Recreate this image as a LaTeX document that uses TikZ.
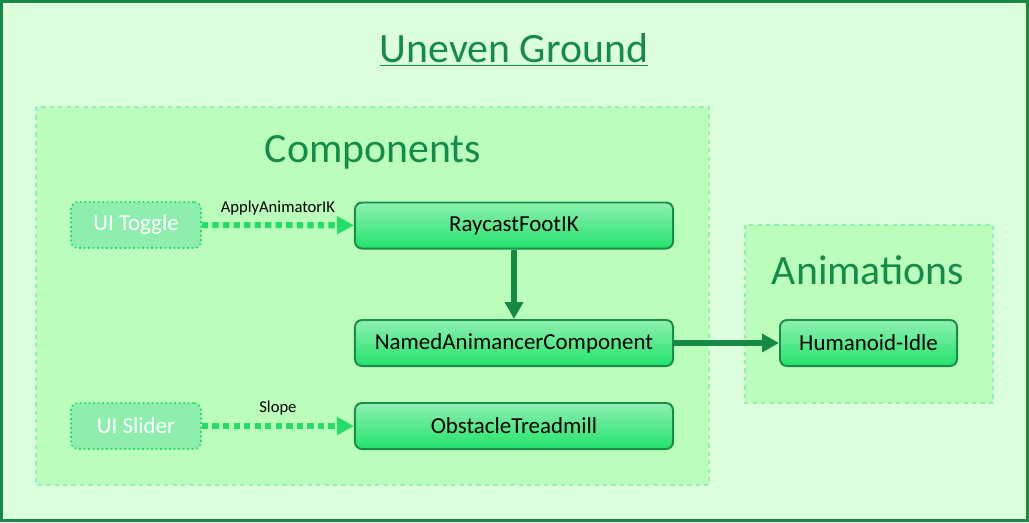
\documentclass[tikz,border=0pt]{standalone}
\usepackage{fontspec}
\setmainfont{Carlito}
\usetikzlibrary{arrows.meta,positioning}
\definecolor{darkgreen}{HTML}{168A45}
\definecolor{titlegreen}{HTML}{138C47}
\definecolor{bgouter}{HTML}{DDFEDD}
\definecolor{bggroup}{HTML}{BBFDBB}
\definecolor{groupedge}{HTML}{8FEFB3}
\definecolor{uifill}{HTML}{8EEEAE}
\definecolor{brightgreen}{HTML}{22DD66}
\definecolor{comptop}{HTML}{8EF0B0}
\definecolor{compbottom}{HTML}{22E36B}
\definecolor{compedge}{HTML}{1B8C4A}

\begin{document}
\begin{tikzpicture}[x=0.025cm, y=-0.025cm,
  comp/.style={rectangle,rounded corners=5pt,draw=compedge,line width=1.4pt,top color=comptop,bottom color=compbottom,minimum width=7.95cm,minimum height=1.15cm,font=\fontsize{16.3}{18}\selectfont},
  uinode/.style={rectangle,rounded corners=5pt,draw=brightgreen,dotted,line width=1.2pt,fill=uifill,text=white,minimum width=3.25cm,minimum height=1.15cm,font=\fontsize{16.3}{18}\selectfont},
  group/.style={draw=groupedge,dashed,line width=1pt,fill=bggroup},
  grouptitle/.style={text=titlegreen,font=\fontsize{29.7}{34}\selectfont},
  link/.style={draw=brightgreen,line width=4.3pt,dash pattern=on 4.5pt off 3pt,-{Triangle[length=12pt,width=12pt]}},
  flow/.style={draw=darkgreen,line width=3.8pt,-{Triangle[length=12pt,width=12.5pt]}},
  linklabel/.style={font=\fontsize{11.8}{14}\selectfont}]
  \useasboundingbox (0,0) rectangle (1029,522);
  % outer frame
  \draw[darkgreen,line width=2.4pt,fill=bgouter] (1.7,1.7) rectangle (1027.3,520.3);
  \node[grouptitle] (title) at (514,50) {\underline{Uneven Ground}};
  % groups
  \draw[group] (36,107) rectangle (709,485);
  \node[grouptitle] (comps) at (373,152) {Components};
  \draw[group] (745,225) rectangle (993,403);
  \node[grouptitle] (anims) at (868,270) {Animations};
  % nodes
  \node[uinode] (toggle) at (136,225) {UI Toggle};
  \node[uinode] (slider) at (136,426) {UI Slider};
  \node[comp] (raycast) at (514,225.5) {RaycastFootIK};
  \node[comp] (named) at (514,343) {NamedAnimancerComponent};
  \node[comp] (treadmill) at (514,426) {ObstacleTreadmill};
  \node[comp,minimum width=4.425cm] (idle) at (868.5,343) {Humanoid-Idle};
  % connectors
  \draw[link] (toggle) -- node[linklabel,above=2pt] {ApplyAnimatorIK} (raycast);
  \draw[link] (slider) -- node[linklabel,above=2pt] {Slope} (treadmill);
  \draw[flow] (raycast) -- (named);
  \draw[flow] (named) -- (idle);
\end{tikzpicture}
\end{document}
